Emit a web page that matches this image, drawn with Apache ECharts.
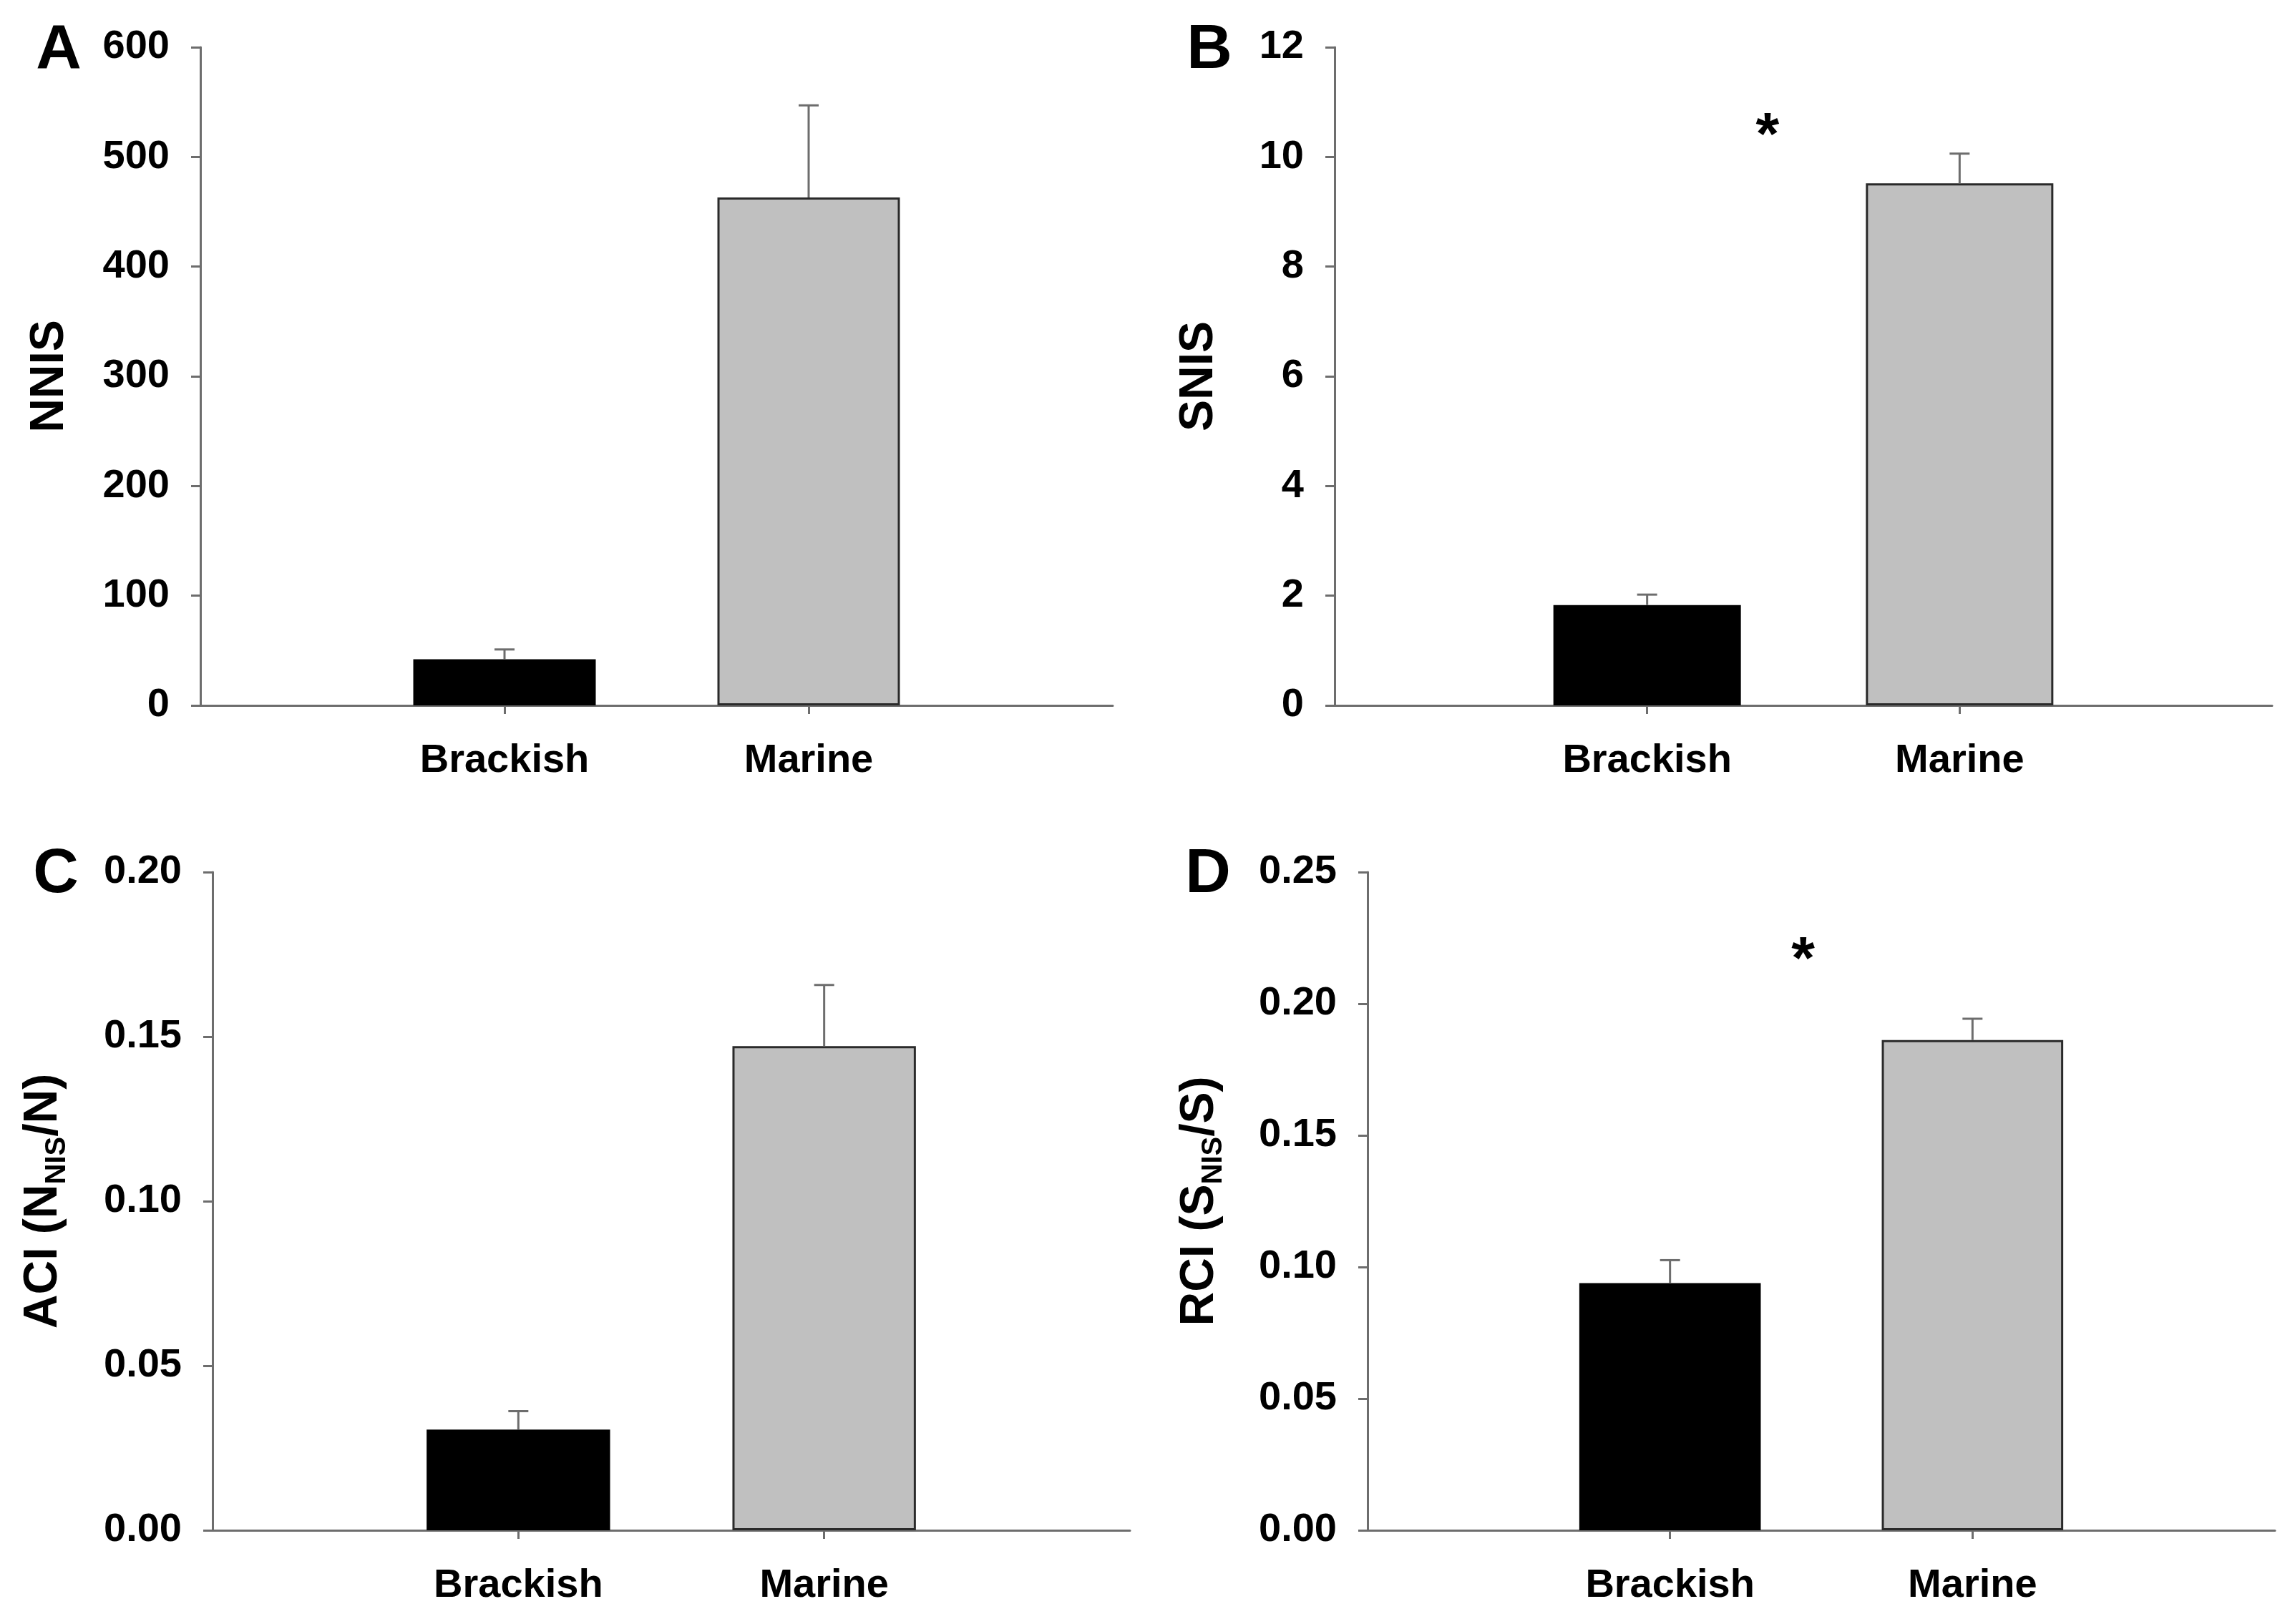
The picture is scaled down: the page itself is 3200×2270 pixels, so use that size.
<!DOCTYPE html>
<html>
<head>
<meta charset="utf-8">
<script src="https://cdn.jsdelivr.net/npm/echarts@6/dist/echarts.min.js"></script>
<style>
html,body{margin:0;padding:0;background:#fff;}
#chart{width:3200px;height:2270px;}
</style>
</head>
<body>
<div id="chart"></div>
<script>
// ---- data ----
const categories = ['Brackish', 'Marine'];

const nnisMean = [42, 463];
const nnisErr  = [9, 84];

const snisMean = [1.83, 9.52];
const snisErr  = [0.19, 0.54];

const aciMean = [0.0306, 0.1471];
const aciErr  = [0.0056, 0.0186];

const rciMean = [0.0939, 0.1862];
const rciErr  = [0.0087, 0.0081];

const yTicksA = {min: 0, max: 600, interval: 100};
const yTicksB = {min: 0, max: 12, interval: 2};
const yTicksC = {min: 0, max: 0.20, interval: 0.05};
const yTicksD = {min: 0, max: 0.25, interval: 0.05};

// significance markers: [category index, y value]
const starB = [[1, 10.35]];
const starD = [[1, 0.2157]];

// ---- styling ----
const FONT = 'Liberation Sans, Arial, sans-serif';
const AXIS_COLOR = '#6d6d6d';
const BAR_COLORS = ['#000000', '#c0c0c0'];

const paddedCats = [''].concat(categories).concat(['']);

const grids = [
  {left: 280, top: 66, width: 1275, height: 920},
  {left: 1865, top: 66, width: 1310, height: 920},
  {left: 297, top: 1219, width: 1282, height: 920},
  {left: 1911, top: 1219, width: 1268, height: 920}
];

const panels = [
  {mean: nnisMean, err: nnisErr, ticks: yTicksA, name: 'NNIS', gap: 177, dec: 0},
  {mean: snisMean, err: snisErr, ticks: yTicksB, name: 'SNIS', gap: 156, dec: 0},
  {mean: aciMean, err: aciErr, ticks: yTicksC, name: '{n|ACI (N}{s|NIS}{n|/N)}', gap: 197, dec: 2},
  {mean: rciMean, err: rciErr, ticks: yTicksD, name: '{n|RCI (S}{s|NIS}{n|/S)}', gap: 195, dec: 2}
];

const xAxes = [], yAxes = [], series = [];

panels.forEach((p, i) => {
  xAxes.push({
    gridIndex: i,
    type: 'category',
    data: paddedCats,
    boundaryGap: false,
    axisLine: {lineStyle: {color: AXIS_COLOR, width: 3}},
    axisTick: {
      show: true, length: 12,
      interval: (idx) => idx >= 1 && idx <= categories.length,
      lineStyle: {color: AXIS_COLOR, width: 3}
    },
    axisLabel: {
      interval: 0, margin: 50,
      fontFamily: FONT, fontWeight: 'bold', fontSize: 56, color: '#000'
    },
    splitLine: {show: false}
  });
  yAxes.push({
    gridIndex: i,
    type: 'value',
    min: p.ticks.min, max: p.ticks.max, interval: p.ticks.interval,
    name: p.name,
    nameLocation: 'middle',
    nameGap: p.gap,
    nameTextStyle: {
      fontFamily: FONT, fontWeight: 'bold', fontSize: 66, color: '#000',
      rich: {
        n: {fontFamily: FONT, fontWeight: 'bold', fontSize: 66, color: '#000'},
        s: {fontFamily: FONT, fontWeight: 'bold', fontSize: 40, color: '#000', padding: [38, 0, 0, 0]}
      }
    },
    axisLine: {show: true, lineStyle: {color: AXIS_COLOR, width: 3}},
    axisTick: {show: true, length: 13, lineStyle: {color: AXIS_COLOR, width: 3}},
    axisLabel: {
      margin: 43,
      fontFamily: FONT, fontWeight: 'bold', fontSize: 56, color: '#000',
      formatter: (v) => v.toFixed(p.dec)
    },
    splitLine: {show: false}
  });

  const barData = ['-'].concat(p.mean.map((v, k) => ({
    value: v,
    itemStyle: k === 0
      ? {color: BAR_COLORS[0], borderColor: '#000', borderWidth: 0}
      : {color: BAR_COLORS[1], borderColor: '#2a2a2a', borderWidth: 3}
  }))).concat(['-']);

  series.push({
    type: 'bar',
    xAxisIndex: i, yAxisIndex: i,
    data: barData,
    barWidth: '60%',
    silent: true,
    z: 2
  });

  series.push({
    type: 'custom',
    xAxisIndex: i, yAxisIndex: i,
    data: p.mean.map((v, k) => [k + 1, v, p.err[k]]),
    z: 3,
    renderItem: function (params, api) {
      const x = api.value(0), m = api.value(1), e = api.value(2);
      const base = api.coord([x, m]);
      const top = api.coord([x, m + e]);
      const capHalf = 14;
      const st = {stroke: AXIS_COLOR, lineWidth: 3};
      return {
        type: 'group',
        children: [
          {type: 'line', shape: {x1: base[0], y1: base[1], x2: top[0], y2: top[1]}, style: st},
          {type: 'line', shape: {x1: top[0] - capHalf, y1: top[1], x2: top[0] + capHalf, y2: top[1]}, style: st}
        ]
      };
    }
  });
});

function starSeries(idx, data, frac) {
  return {
    type: 'custom',
    xAxisIndex: idx, yAxisIndex: idx,
    data: data,
    z: 4,
    renderItem: function (params, api) {
      const x = api.value(0), y = api.value(1);
      const p1 = api.coord([x, y]);
      const p2 = api.coord([x + 1, y]);
      return {
        type: 'text',
        style: {
          x: p1[0] + (p2[0] - p1[0]) * frac,
          y: p1[1],
          text: '*',
          fontFamily: FONT, fontWeight: 'bold', fontSize: 84, fill: '#000',
          textAlign: 'center', textVerticalAlign: 'middle'
        }
      };
    }
  };
}
series.push(starSeries(1, starB, 0.385));
series.push(starSeries(3, starD, 0.44));

const letters = [
  {t: 'A', x: 82, y: 67},
  {t: 'B', x: 1690, y: 67},
  {t: 'C', x: 78, y: 1219},
  {t: 'D', x: 1688, y: 1219}
];

const chart = echarts.init(document.getElementById('chart'), null, {renderer: 'canvas'});
chart.setOption({
  backgroundColor: '#ffffff',
  animation: false,
  grid: grids,
  xAxis: xAxes,
  yAxis: yAxes,
  series: series,
  graphic: letters.map(l => ({
    type: 'text',
    x: l.x, y: l.y + 4,
    style: {
      text: l.t,
      fontFamily: FONT, fontWeight: 'bold', fontSize: 88, fill: '#000',
      textAlign: 'center', textVerticalAlign: 'middle'
    }
  }))
});
</script>
</body>
</html>
